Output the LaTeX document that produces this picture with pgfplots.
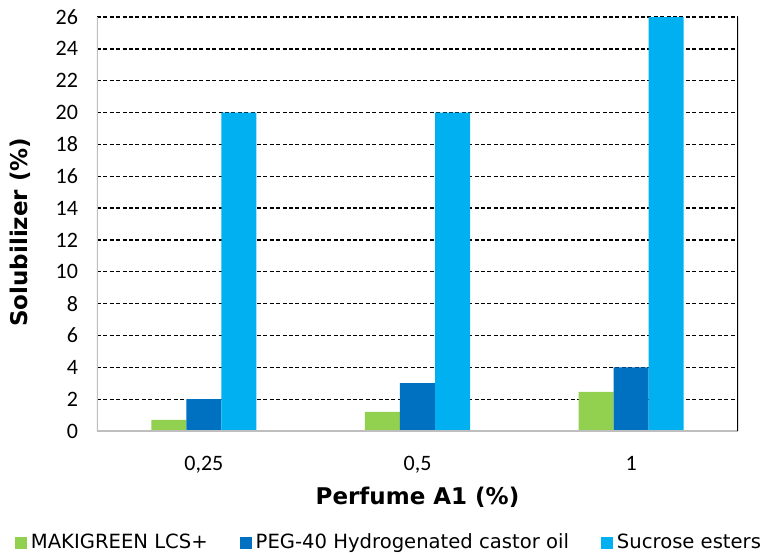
\documentclass[border=0pt]{standalone}
\usepackage{pgfplots}
\pgfplotsset{compat=1.18}
\usepackage{fontspec}
\setmainfont{DejaVu Sans}
\newfontfamily\tickfont{Carlito}
\definecolor{cgreen}{RGB}{146,208,80}
\definecolor{cblue}{RGB}{0,112,192}
\definecolor{ccyan}{RGB}{0,176,240}
\definecolor{caxis}{RGB}{190,190,190}
\begin{document}
\begin{tikzpicture}
\path[use as bounding box] (-48.5pt,-61.5pt) rectangle (332pt,215.5pt);
\begin{axis}[
  at={(0,0)}, anchor=south west,
  scale only axis, width=320.5pt, height=207pt,
  xmin=-0.5, xmax=2.5, ymin=0, ymax=26,
  ytick={0,2,...,26}, xtick={0,1,2},
  xticklabels={{0,25},{0,5},{1}},
  major tick length=0pt,
  axis line style={draw=none},
  ymajorgrids, grid style={black, line width=0.65pt, dash pattern=on 2pt off 1.2pt},
  /pgf/number format/assume math mode=true,
  ticklabel style={font=\tickfont\fontsize{11}{13}\selectfont},
  yticklabel style={xshift=-6pt},
  xticklabel style={yshift=-9pt},
  xlabel={Perfume A1 (\%)},
  ylabel={Solubilizer (\%)},
  label style={font=\bfseries\fontsize{11.5}{13}\selectfont},
  xlabel style={at={(axis description cs:0.5,-0.16)}, anchor=center},
  ylabel style={at={(axis description cs:-0.12,0.48)}, anchor=center, rotate=0},
  ybar=0pt, bar width=0.164,
  legend style={at={(axis description cs:0.457,-0.27)}, anchor=center, draw=none,
    legend columns=3, font=\fontsize{9.8}{11}\selectfont,
    /tikz/every even column/.append style={column sep=14pt}},
  legend image code/.code={\fill[#1] (0pt,-3pt) rectangle (6pt,3pt);},
]
\addplot[fill=cgreen, draw=none] coordinates {(0,0.7) (1,1.2) (2,2.45)};
\addplot[fill=cblue, draw=none] coordinates {(0,2) (1,3) (2,4)};
\addplot[fill=ccyan, draw=none] coordinates {(0,20) (1,20) (2,26)};
\legend{MAKIGREEN LCS+, PEG-40 Hydrogenated castor oil, Sucrose esters}
\draw[caxis, line width=0.6pt] (rel axis cs:0,1) -- (rel axis cs:0,0) -- (rel axis cs:1,0);
\draw[black, line width=0.6pt] (rel axis cs:1,0) -- (rel axis cs:1,1);
\end{axis}
\end{tikzpicture}
\end{document}
